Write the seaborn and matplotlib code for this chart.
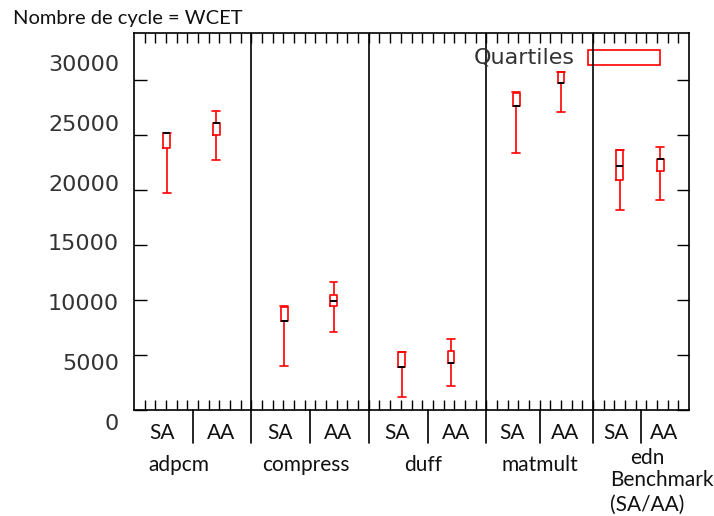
import numpy as np
import pandas as pd
import matplotlib.pyplot as plt
import seaborn as sns
from matplotlib.patches import Rectangle

sns.set_style("white")
plt.rcParams['font.family'] = ['DejaVu Sans']

# ==========================================
# DATA
# ==========================================
benchmarks = ['adpcm', 'compress', 'duff', 'matmult', 'edn']
methods = ['SA', 'AA']

# one value per box, order: adpcm SA, adpcm AA, compress SA, ...
whisker_low = [19750, 22700, 4000, 7100, 1200, 2200, 23400, 27050, 18200, 19100]
quart_1 = [23800, 25000, 8050, 9450, 3900, 4300, 27600, 29700, 20950, 21750]
medians = [25150, 26050, 8050, 9950, 3900, 4300, 27600, 29700, 22200, 22800]
quart_3 = [25150, 26050, 9400, 10450, 5250, 5350, 28850, 30750, 23650, 22800]
whisker_high = [25200, 27200, 9450, 11600, 5250, 6450, 28900, 30750, 23650, 23950]

y_ticks = [0, 5000, 10000, 15000, 20000, 25000, 30000]

# layout of the x axis (group boundaries in axis units)
group_edges = [0, 11, 22, 33, 43, 52]
label_shift = [-1.3, -0.4, -0.4, 0, 0.6]

# ==========================================
# BUILD LONG TABLE (5 summary values per box)
# ==========================================
rows = []
k = 0
for g, bench in enumerate(benchmarks):
    lo, hi = group_edges[g], group_edges[g + 1]
    for m, meth in enumerate(methods):
        pos = lo + (0.28 if meth == 'SA' else 0.70) * (hi - lo)
        for v in [whisker_low[k], quart_1[k], medians[k], quart_3[k], whisker_high[k]]:
            rows.append({'pos': pos, 'cycles': v, 'bench': bench, 'method': meth})
        k += 1
df = pd.DataFrame(rows)

# ==========================================
# PLOT
# ==========================================
fig = plt.figure(figsize=(7.14, 5.16), dpi=100)
ax = fig.add_axes([0.1877, 0.2054, 0.7773, 0.7306])

sns.boxplot(data=df, x='pos', y='cycles', native_scale=True, whis=(0, 100),
            fill=False, color='red', width=0.17, linewidth=1.2,
            showfliers=False, ax=ax,
            boxprops=dict(color='red'),
            whiskerprops=dict(color='red'),
            capprops=dict(color='red'),
            medianprops=dict(color='black', linewidth=1.4))

# caps as wide as the boxes
for ln in ax.lines:
    xd, yd = np.asarray(ln.get_xdata(), float), np.asarray(ln.get_ydata(), float)
    if len(xd) == 2 and yd[0] == yd[1] and ln.get_color() == 'red':
        c = xd.mean()
        ln.set_xdata([c - 0.36, c + 0.36])

ax.set_xlim(0, 52)
ax.set_ylim(0, 34270)
ax.set_xlabel('')
ax.set_ylabel('')

for sp in ax.spines.values():
    sp.set_color('black')
    sp.set_linewidth(1.2)

ax.set_xticks(range(1, 52))
ax.set_xticklabels([])
ax.tick_params(axis='x', direction='in', length=7, width=1, color='black',
               top=True, bottom=True, labelbottom=False)
ax.set_yticks(y_ticks)
ax.set_yticklabels([])
ax.tick_params(axis='y', direction='in', length=9, width=1, color='black',
               left=True, right=True, labelleft=False)

# y labels (slightly spread as in the original)
for v in y_ticks:
    ax.text(-0.027, v * 1.088 - 1270, f'{v}', transform=ax.get_yaxis_transform(),
            ha='right', va='center', fontsize=16, color='#333333')

# group dividers
for e in group_edges[1:-1]:
    ax.axvline(e, color='black', lw=1.2)

# lower label band
lab = dict(fontsize=15, family='Lato', color='#111111')
trans = ax.get_xaxis_transform()
for g, bench in enumerate(benchmarks):
    lo, hi = group_edges[g], group_edges[g + 1]
    mid = (lo + hi) / 2
    ax.plot([mid, mid], [0, -0.088], color='black', lw=1.2, transform=trans, clip_on=False)
    if g > 0:
        ax.plot([lo, lo], [0, -0.088], color='black', lw=1.2, transform=trans, clip_on=False)
    ax.text(lo + 0.24 * (hi - lo), -0.061, 'SA', transform=trans, ha='center', va='center', **lab)
    ax.text(lo + 0.74 * (hi - lo), -0.061, 'AA', transform=trans, ha='center', va='center', **lab)
    yb = -0.127 if bench == 'edn' else -0.146
    ax.text(mid + label_shift[g], yb, bench, transform=trans, ha='center',
            va='center', **lab)

ax.text(44.6, -0.186, 'Benchmark', transform=trans, ha='left', va='center', **lab)
ax.text(44.6, -0.252, '(SA/AA)', transform=trans, ha='left', va='center', **lab)

# legend
ax.text(0.795, 0.934, 'Quartiles', transform=ax.transAxes, ha='right', va='center',
        fontsize=16, color='#333333')
ax.add_patch(Rectangle((0.818, 0.915), 0.130, 0.040, transform=ax.transAxes,
                       fill=False, edgecolor='red', lw=1.2))

fig.text(0.018, 0.965, 'Nombre de cycle = WCET', ha='left', va='center',
         fontsize=14.5, family='Lato', color='#111111')

fig.savefig('out.png', dpi=100)
